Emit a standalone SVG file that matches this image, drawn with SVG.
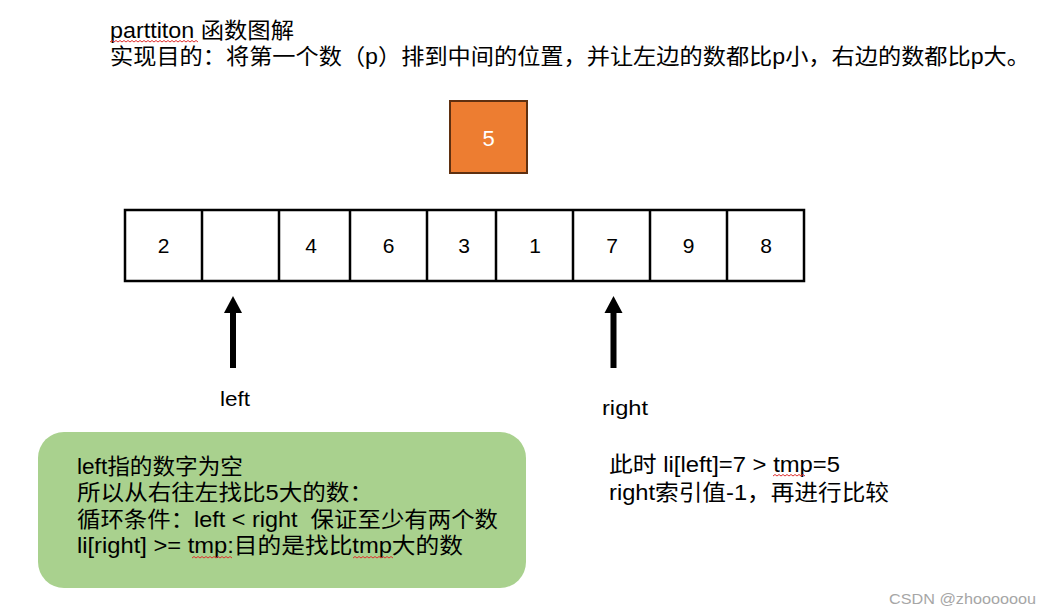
<svg xmlns="http://www.w3.org/2000/svg" width="1051" height="615" viewBox="0 0 1051 615">
<style>
.t{font-family:"Liberation Sans","Noto Sans CJK SC",sans-serif;fill:#000;white-space:pre}
.cell{fill:#fff;stroke:#000;stroke-width:2.5}
.num{font-family:"Liberation Sans","Noto Sans CJK SC",sans-serif;font-size:21px;text-anchor:middle;fill:#000}
.sq{fill:none;stroke:#e03030;stroke-width:1}
.arr{fill:#000}
</style>
<rect width="1051" height="615" fill="#fff"/>
<g id="title">
<text class="t" x="110" y="38" font-size="22" textLength="184" lengthAdjust="spacingAndGlyphs">parttiton 函数图解</text>
<path class="sq" d="M110,42 l2,-1.5 l2,1.5 l2,-1.5 l2,1.5 l2,-1.5 l2,1.5 l2,-1.5 l2,1.5 l2,-1.5 l2,1.5 l2,-1.5 l2,1.5 l2,-1.5 l2,1.5 l2,-1.5 l2,1.5 l2,-1.5 l2,1.5 l2,-1.5 l2,1.5 l2,-1.5 l2,1.5 l2,-1.5 l2,1.5 l2,-1.5 l2,1.5 l2,-1.5 l2,1.5 l2,-1.5 l2,1.5 l2,-1.5 l2,1.5 l2,-1.5 l2,1.5 l2,-1.5 l2,1.5 l2,-1.5 l2,1.5 l2,-1.5 l2,1.5 l2,-1.5 l2,1.5 l2,-1.5 l2,1.5"/>
<text class="t" x="110" y="64" font-size="22" textLength="920" lengthAdjust="spacingAndGlyphs">实现目的：将第一个数（p）排到中间的位置，并让左边的数都比p小，右边的数都比p大。</text>
</g>
<g id="pivot">
<rect x="450" y="101" width="77" height="72" fill="#ED7D31" stroke="#5f3010" stroke-width="2"/>
<text class="num" x="488.5" y="145.5" style="fill:#fff;font-size:22px">5</text>
</g>
<g id="array">
<rect class="cell" x="125" y="210" width="679" height="71"/>
<path d="M202,210V281M279,210V281M350,210V281M427,210V281M496,210V281M573,210V281M650,210V281M727,210V281" stroke="#000" stroke-width="2.5" fill="none"/>
<text class="num" x="163.5" y="253">2</text>
<text class="num" x="311" y="253">4</text>
<text class="num" x="388.5" y="253">6</text>
<text class="num" x="464" y="253">3</text>
<text class="num" x="535" y="253">1</text>
<text class="num" x="612" y="253">7</text>
<text class="num" x="688.5" y="253">9</text>
<text class="num" x="766" y="253">8</text>
</g>
<g id="connectors">
<rect class="arr" x="230" y="312" width="6" height="56"/>
<polygon class="arr" points="224,313 242,313 233,296"/>
<rect class="arr" x="610.5" y="312" width="6" height="56"/>
<polygon class="arr" points="604.5,313 622.5,313 613.5,296"/>
</g>
<g id="label-left">
<text class="t" x="220" y="406" font-size="21" textLength="30" lengthAdjust="spacingAndGlyphs">left</text>
</g>
<g id="label-right">
<text class="t" x="602" y="415" font-size="21" textLength="46" lengthAdjust="spacingAndGlyphs">right</text>
</g>
<g id="note-green">
<rect x="38" y="432" width="488" height="156" rx="26" ry="26" fill="#A9D18E"/>
<text class="t" x="77" y="474" font-size="22" textLength="166" lengthAdjust="spacingAndGlyphs">left指的数字为空</text>
<text class="t" x="77" y="500" font-size="22" textLength="296" lengthAdjust="spacingAndGlyphs">所以从右往左找比5大的数：</text>
<text class="t" x="77" y="527" font-size="22" textLength="421" lengthAdjust="spacingAndGlyphs" xml:space="preserve">循环条件：left &lt; right  保证至少有两个数</text>
<text class="t" x="77" y="553" font-size="22" textLength="386" lengthAdjust="spacingAndGlyphs">li[right] &gt;= tmp:目的是找比tmp大的数</text>
<path class="sq" d="M192,558 l2,-1.5 l2,1.5 l2,-1.5 l2,1.5 l2,-1.5 l2,1.5 l2,-1.5 l2,1.5 l2,-1.5 l2,1.5 l2,-1.5 l2,1.5 l2,-1.5 l2,1.5 l2,-1.5 l2,1.5 l2,-1.5 l2,1.5 l2,-1.5 l2,1.5"/>
<path class="sq" d="M353,558 l2,-1.5 l2,1.5 l2,-1.5 l2,1.5 l2,-1.5 l2,1.5 l2,-1.5 l2,1.5 l2,-1.5 l2,1.5 l2,-1.5 l2,1.5 l2,-1.5 l2,1.5 l2,-1.5 l2,1.5 l2,-1.5 l2,1.5 l2,-1.5 l2,1.5"/>
</g>
<g id="note-right">
<text class="t" x="609" y="472" font-size="22" textLength="231" lengthAdjust="spacingAndGlyphs">此时 li[left]=7 &gt; tmp=5</text>
<text class="t" x="609" y="500" font-size="22" textLength="280" lengthAdjust="spacingAndGlyphs">right索引值-1，再进行比较</text>
<path class="sq" d="M773,476 l2,-1.5 l2,1.5 l2,-1.5 l2,1.5 l2,-1.5 l2,1.5 l2,-1.5 l2,1.5 l2,-1.5 l2,1.5 l2,-1.5 l2,1.5 l2,-1.5 l2,1.5 l2,-1.5 l2,1.5"/>
</g>
<g id="watermark">
<text x="889" y="604" font-family="'Liberation Sans',sans-serif" font-size="15" fill="#a6a6a6" textLength="147" lengthAdjust="spacingAndGlyphs">CSDN @zhoooooou</text>
</g>
</svg>
